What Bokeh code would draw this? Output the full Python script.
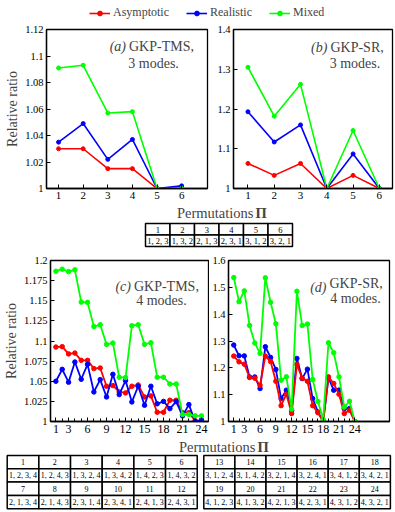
from bokeh.plotting import figure
from bokeh.models import (Range1d, FixedTicker, CustomJSTickFormatter, Label,
                          Legend, LegendItem)
from bokeh.layouts import column, row
from bokeh.embed import file_html
from bokeh.resources import INLINE
from bokeh.core.properties import value

FONT = "Liberation Serif"
RED, BLUE, GREEN = "#ff0000", "#0000ff", "#00ff00"

# ---------------- data ----------------
series_names = ["Asymptotic", "Realistic", "Mixed"]

perm3 = [1, 2, 3, 4, 5, 6]
a_asym = [1.030, 1.030, 1.015, 1.015, 1.000, 1.000]
a_real = [1.035, 1.049, 1.022, 1.037, 1.000, 1.002]
a_mix = [1.091, 1.093, 1.057, 1.058, 1.000, 1.000]

b_asym = [1.063, 1.033, 1.063, 1.000, 1.033, 1.000]
b_real = [1.193, 1.117, 1.160, 1.000, 1.087, 1.000]
b_mix = [1.305, 1.182, 1.262, 1.000, 1.146, 1.000]

perm4 = list(range(1, 25))
c_asym = [1.0925, 1.093, 1.084, 1.085, 1.076, 1.076, 1.0657, 1.0665, 1.0438, 1.0446,
          1.0367, 1.0355, 1.0438, 1.0454, 1.0305, 1.0318, 1.0115, 1.0115, 1.0264, 1.0264,
          1.011, 1.011, 1.001, 1.000]
c_real = [1.050, 1.0648, 1.0488, 1.0739, 1.0525, 1.071, 1.0367, 1.052, 1.0305, 1.0586,
          1.0334, 1.0508, 1.0243, 1.0438, 1.0202, 1.0438, 1.022, 1.025, 1.016, 1.0247,
          1.007, 1.021, 1.000, 1.002]
c_mix = [1.1867, 1.1892, 1.1863, 1.1884, 1.1483, 1.148, 1.118, 1.1202, 1.0958, 1.0975,
         1.055, 1.0546, 1.119, 1.1202, 1.0958, 1.0979, 1.055, 1.055, 1.0466, 1.0466,
         1.0087, 1.0087, 1.007, 1.007]

d_asym = [1.2437, 1.2224, 1.2137, 1.164, 1.1615, 1.135, 1.2437, 1.2237, 1.150, 1.059,
          1.1017, 1.0295, 1.2125, 1.1615, 1.150, 1.059, 1.033, 1.000, 1.1664, 1.1415,
          1.1017, 1.0295, 1.042, 1.000]
d_real = [1.285, 1.245, 1.2445, 1.166, 1.166, 1.123, 1.2786, 1.2388, 1.194, 1.0855,
          1.1166, 1.040, 1.235, 1.160, 1.195, 1.0855, 1.0356, 1.000, 1.1627, 1.1166,
          1.117, 1.048, 1.048, 1.000]
d_mix = [1.5365, 1.4467, 1.4867, 1.358, 1.2923, 1.2538, 1.5353, 1.4443, 1.3645, 1.154,
         1.1664, 1.0456, 1.4855, 1.358, 1.363, 1.1565, 1.0743, 1.008, 1.2935, 1.256,
         1.1664, 1.054, 1.0755, 1.000]

a_yticks = [1, 1.02, 1.04, 1.06, 1.08, 1.1, 1.12]
b_yticks = [1, 1.1, 1.2, 1.3, 1.4]
c_yticks = [1, 1.025, 1.05, 1.075, 1.1, 1.125, 1.15, 1.175, 1.2]
d_yticks = [1, 1.1, 1.2, 1.3, 1.4, 1.5, 1.6]
x3_ticks = [1, 2, 3, 4, 5, 6]
x4_ticks = [1, 3, 6, 9, 12, 15, 18, 21, 24]

table3_ids = ["1", "2", "3", "4", "5", "6"]
table3_perms = ["1, 2, 3", "1, 3, 2", "2, 1, 3", "2, 3, 1", "3, 1, 2", "3, 2, 1"]
table4_ids = [str(i) for i in range(1, 25)]
table4_perms = ["1, 2, 3, 4", "1, 2, 4, 3", "1, 3, 2, 4", "1, 3, 4, 2", "1, 4, 2, 3", "1, 4, 3, 2",
                "2, 1, 3, 4", "2, 1, 4, 3", "2, 3, 1, 4", "2, 3, 4, 1", "2, 4, 1, 3", "2, 4, 3, 1",
                "3, 1, 2, 4", "3, 1, 4, 2", "3, 2, 1, 4", "3, 2, 4, 1", "3, 4, 1, 2", "3, 4, 2, 1",
                "4, 1, 2, 3", "4, 1, 3, 2", "4, 2, 1, 3", "4, 2, 3, 1", "4, 3, 1, 2", "4, 3, 2, 1"]

FMT = "return (Math.round(tick*1000)/1000).toString();"


def panel(width, height, xr, yr, yticks, xticks, xminor, bl, br, bt, bb,
          ylabel=None, xfs="11px", yfs="10.5px"):
    p = figure(width=width, height=height, x_range=Range1d(*xr), y_range=Range1d(*yr),
               output_backend="svg", toolbar_location=None,
               min_border_left=bl, min_border_right=br, min_border_top=bt,
               min_border_bottom=bb)
    p.xgrid.visible = False
    p.ygrid.visible = False
    p.outline_line_color = "black"
    p.outline_line_width = 1.3
    p.outline_line_alpha = 1.0
    for ax in (p.xaxis[0], p.yaxis[0]):
        ax.major_tick_in = 4
        ax.major_tick_out = 0
        ax.minor_tick_in = 0
        ax.minor_tick_out = 0
        ax.axis_line_color = "black"
        ax.axis_line_width = 1.3
        ax.major_tick_line_color = "black"
        ax.major_label_text_font = FONT
        ax.major_label_text_color = "black"
        ax.major_label_standoff = 3
        ax.formatter = CustomJSTickFormatter(code=FMT)
    p.xaxis[0].major_label_text_font_size = xfs
    p.yaxis[0].major_label_text_font_size = yfs
    p.xaxis[0].ticker = FixedTicker(ticks=xticks, minor_ticks=xminor)
    if xminor:
        p.xaxis[0].minor_tick_in = 3
        p.xaxis[0].minor_tick_line_color = "black"
    p.yaxis[0].ticker = FixedTicker(ticks=yticks)
    if ylabel:
        p.yaxis[0].axis_label = ylabel
        p.yaxis[0].axis_label_text_font = FONT
        p.yaxis[0].axis_label_text_font_style = "normal"
        p.yaxis[0].axis_label_text_font_size = "14px"
        p.yaxis[0].axis_label_standoff = 2
    return p


def draw(p, x, series, size=4, lw=1.6, order=(0, 1, 2)):
    cols = [RED, BLUE, GREEN]
    for i in order:
        p.line(x, series[i], line_color=cols[i], line_width=lw)
        p.scatter(x, series[i], size=size, fill_color=cols[i], line_color=cols[i])


def tag(p, xs, ys, letter, name, modes_x, modes_y, modes, name_dy=0.0):
    p.add_layout(Label(x=xs, y=ys, text=letter, text_font=FONT, text_font_style="italic",
                       text_font_size="14px", text_align="right", text_baseline="middle",
                       x_offset=-2))
    p.add_layout(Label(x=xs, y=ys + name_dy, text=name,
                       text_font=FONT, text_font_size="14px", text_align="left",
                       text_baseline="middle", x_offset=1))
    p.add_layout(Label(x=modes_x, y=modes_y, text=modes, text_font=FONT,
                       text_font_size="14px", text_align="center", text_baseline="middle"))


# ---------------- legend strip ----------------
lg = figure(width=395, height=22, x_range=Range1d(100, 101), y_range=Range1d(100, 101),
            x_axis_type=None, y_axis_type=None, output_backend="svg",
            toolbar_location=None, min_border=0)
lg.outline_line_color = None
lg.xgrid.visible = False
lg.ygrid.visible = False
items = []
for name, col, ys in zip(series_names, [RED, BLUE, GREEN], [a_asym, a_real, a_mix]):
    r1 = lg.line(perm3, ys, line_color=col, line_width=1.6)
    r2 = lg.scatter(perm3, ys, size=4, fill_color=col, line_color=col)
    items.append(LegendItem(label=name, renderers=[r1, r2]))
legend = Legend(items=items, orientation="horizontal", location=(89, 2),
                border_line_color=None, background_fill_alpha=0,
                label_text_font=FONT, label_text_font_size="12px",
                glyph_width=21, glyph_height=12, label_height=12,
                label_standoff=3, spacing=17, padding=0, margin=0)
lg.add_layout(legend)

# ---------------- panels (a), (b) ----------------
pa = panel(214, 183, (0.51, 7.05), (1, 1.12), a_yticks, x3_ticks, [], 46, 7, 7, 17,
           ylabel="Relative ratio")
draw(pa, perm3, [a_asym, a_real, a_mix])
tag(pa, 3.82, 1.1072, "(a)", "GKP-TMS,", 4.86, 1.0943, "3 modes.")

pb = panel(181, 183, (0.45, 6.5), (1, 1.4), b_yticks, x3_ticks, [], 17, 3, 7, 17)
draw(pb, perm3, [b_asym, b_real, b_mix])
tag(pb, 4.10, 1.3555, "(b)", "GKP-SR,", 5.07, 1.3145, "3 modes.")

# ---------------- table for 3 modes ----------------
t1 = figure(width=395, height=45, x_range=Range1d(0, 395), y_range=Range1d(250, 205),
            x_axis_type=None, y_axis_type=None, output_backend="svg",
            toolbar_location=None, min_border=0)
t1.outline_line_color = None
t1.xgrid.visible = False
t1.ygrid.visible = False
t1.add_layout(Label(x=253, y=212.5, text="Permutations", text_font=FONT,
                    text_font_size="14.5px", text_align="right", text_baseline="middle"))
t1.add_layout(Label(x=255, y=212.5, text="Π", text_font=FONT, text_font_style="bold",
                    text_font_size="14.5px", text_align="left", text_baseline="middle"))
cw3, x03 = 24.5, 145.0
lefts = [x03 + i * cw3 for i in range(len(table3_ids))]
rights = [l + cw3 for l in lefts]
centers = [l + cw3 / 2 for l in lefts]
t1.quad(left=lefts, right=rights, top=[223] * 6, bottom=[234.5] * 6,
        fill_color="white", line_color="black", line_width=1.5)
t1.quad(left=lefts, right=rights, top=[234.5] * 6, bottom=[246] * 6,
        fill_color="white", line_color="black", line_width=1.5)
t1.text(x=centers, y=[229] * 6, text=table3_ids, text_font=value(FONT),
        text_font_size=value("8.5px"), text_align="center", text_baseline="middle")
t1.text(x=centers, y=[240.5] * 6, text=table3_perms, text_font=value(FONT),
        text_font_size=value("8.5px"), text_align="center", text_baseline="middle")

# ---------------- panels (c), (d) ----------------
pc = panel(209, 187, (0.15, 25.1), (1, 1.2), c_yticks, x4_ticks, perm4, 47, 1, 10, 16,
           ylabel="Relative ratio", xfs="12px", yfs="10.5px")
draw(pc, perm4, [c_asym, c_real, c_mix], size=4.5, lw=1.8)
tag(pc, 13.17, 1.168, "(c)", "GKP-TMS,", 17.67, 1.1503, "4 modes.")

pd_ = panel(186, 187, (0, 30.6), (1, 1.6), d_yticks, x4_ticks, perm4, 19, 6, 10, 16,
            xfs="12px", yfs="10.5px")
draw(pd_, perm4, [d_asym, d_real, d_mix], size=4.5, lw=1.8, order=(1, 0, 2))
tag(pd_, 19.0, 1.5005, "(d)", "GKP-SR,", 24.14, 1.4595, "4 modes.", name_dy=0.014)

# ---------------- tables for 4 modes ----------------
t2 = figure(width=395, height=74, x_range=Range1d(0, 395), y_range=Range1d(511, 437),
            x_axis_type=None, y_axis_type=None, output_backend="svg",
            toolbar_location=None, min_border=0)
t2.outline_line_color = None
t2.xgrid.visible = False
t2.ygrid.visible = False
t2.add_layout(Label(x=255, y=446, text="Permutations", text_font=FONT,
                    text_font_size="14.5px", text_align="right", text_baseline="middle"))
t2.add_layout(Label(x=257, y=446, text="Π", text_font=FONT, text_font_style="bold",
                    text_font_size="14.5px", text_align="left", text_baseline="middle"))
row_tops = [455, 468.3, 481.6, 494.9]
rh = 13.3
for block, (x0, cw4) in enumerate([(6.7, 31.67), (203.3, 31.1)]):
    for half in range(2):
        start = block * 12 + half * 6
        ids = table4_ids[start:start + 6]
        perms = table4_perms[start:start + 6]
        ls = [x0 + i * cw4 for i in range(6)]
        rs = [l + cw4 for l in ls]
        cs = [l + cw4 / 2 for l in ls]
        ty = row_tops[half * 2]
        py = row_tops[half * 2 + 1]
        t2.quad(left=ls, right=rs, top=[ty] * 6, bottom=[ty + rh] * 6,
                fill_color="white", line_color="black", line_width=1.5)
        t2.quad(left=ls, right=rs, top=[py] * 6, bottom=[py + rh] * 6,
                fill_color="white", line_color="black", line_width=1.5)
        t2.text(x=cs, y=[ty + rh / 2 + 0.3] * 6, text=ids, text_font=value(FONT),
                text_font_size=value("8px"), text_align="center", text_baseline="middle")
        t2.text(x=cs, y=[py + rh / 2 + 0.3] * 6, text=perms, text_font=value(FONT),
                text_font_size=value("8px"), text_align="center", text_baseline="middle")

layout = column(lg, row(pa, pb), t1, row(pc, pd_), t2)

open("out.html", "w").write(file_html(layout, INLINE))
